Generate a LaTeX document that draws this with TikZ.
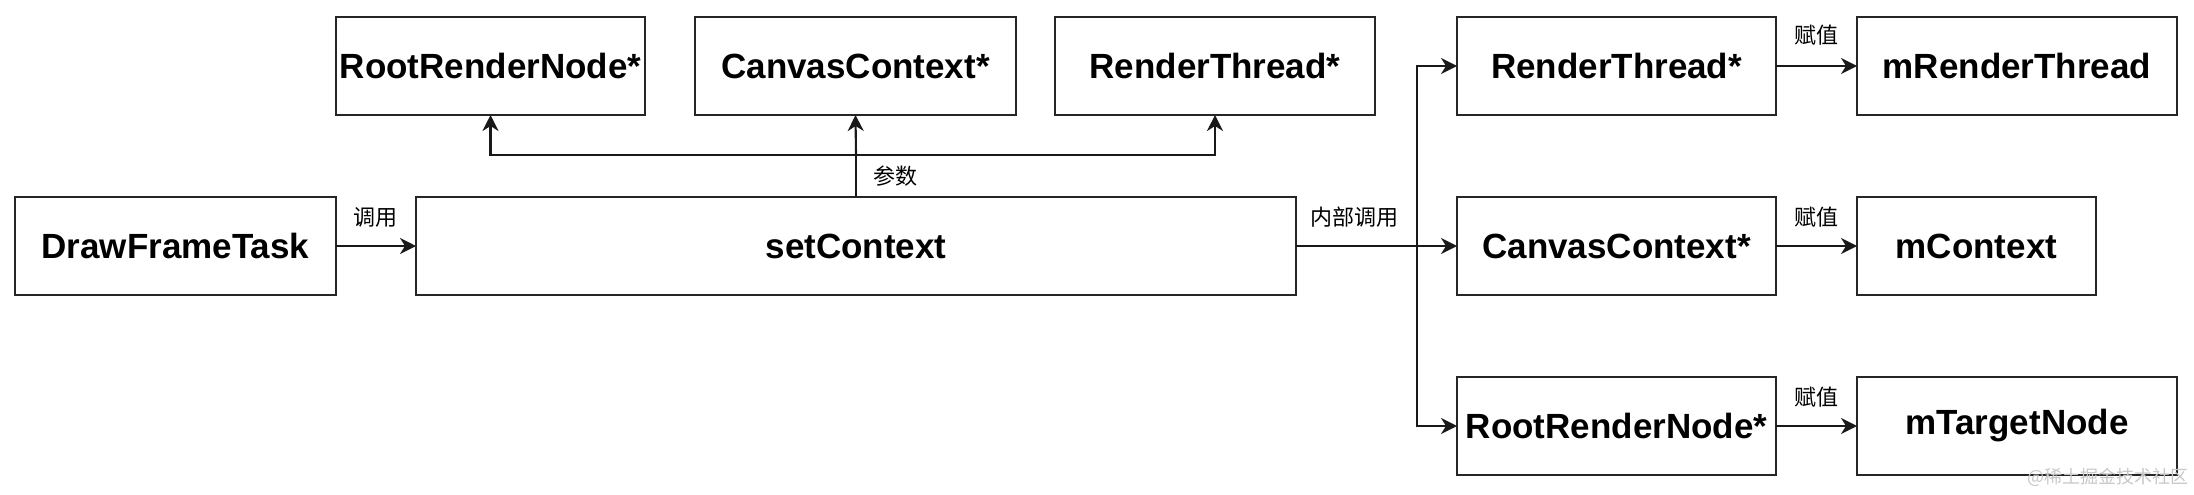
\documentclass[tikz,border=0pt]{standalone}
\usepackage{fontspec}
\setmainfont{Liberation Sans}
\newfontfamily\cjk{Noto Sans CJK SC}
\usetikzlibrary{arrows.meta}
\begin{document}
\begin{tikzpicture}[x=0.5pt,y=-0.5pt,
  box/.style={draw=black!85,line width=1.2pt,inner sep=0pt,outer sep=0pt,minimum height=49pt,font=\fontsize{17.5}{20}\selectfont\bfseries},
  conn/.style={line width=1.05pt,draw=black!90},
  arr/.style={conn,-{Stealth[length=8pt,width=8pt,inset=2.5pt]}},
  lbl/.style={font=\cjk\fontsize{11}{13}\selectfont,inner sep=0pt}]
\useasboundingbox (0,0) rectangle (2194,494);
% boxes
\node[box,minimum width=160.5pt] (dft) at (175.5,246) {DrawFrameTask};
\node[box,minimum width=440pt] (set) at (856,246) {setContext};
\node[box,minimum width=154.5pt] (rrnA) at (490.5,66) {RootRenderNode*};
\node[box,minimum width=160.5pt] (ccA) at (855.5,66) {CanvasContext*};
\node[box,minimum width=160pt] (rtA) at (1215,66) {RenderThread*};
\node[box,minimum width=159.5pt] (rtB) at (1616.5,66) {RenderThread*};
\node[box,minimum width=159.5pt] (ccB) at (1616.5,246) {CanvasContext*};
\node[box,minimum width=159.5pt] (rrnB) at (1616.5,426) {RootRenderNode*};
\node[box,minimum width=160pt] (mrt) at (2017,66) {mRenderThread};
\node[box,minimum width=119.5pt] (mctx) at (1976.5,246) {mContext};
\node[box,minimum width=160pt] (mtn) at (2017,426) {mTargetNode};
% connectors
\draw[arr] (dft.east) -- (set.west);
\coordinate (pj) at (856,155);
\draw[conn] (set.north) -- (pj);
\draw[arr] (pj) -- (ccA.south);
\draw[arr] (pj) -| (rrnA.south);
\draw[arr] (pj) -| (rtA.south);
\coordinate (br) at (1417,246);
\draw[conn] (set.east) -- (br);
\draw[arr] (br) |- (rtB.west);
\draw[arr] (br) -- (ccB.west);
\draw[arr] (br) |- (rrnB.west);
\draw[arr] (rtB.east) -- (mrt.west);
\draw[arr] (ccB.east) -- (mctx.west);
\draw[arr] (rrnB.east) -- (mtn.west);
% labels
\node[lbl] (l1) at (375,217) {调用};
\node[lbl] (l2) at (895,176) {参数};
\node[lbl] (l3) at (1354,217) {内部调用};
\node[lbl] (l4) at (1816,35) {赋值};
\node[lbl] (l5) at (1816,217) {赋值};
\node[lbl] (l6) at (1816,397) {赋值};
\node[lbl,text=black!22,font=\cjk\fontsize{9}{11}\selectfont] (wm) at (2108,477) {@稀土掘金技术社区};
\end{tikzpicture}
\end{document}
